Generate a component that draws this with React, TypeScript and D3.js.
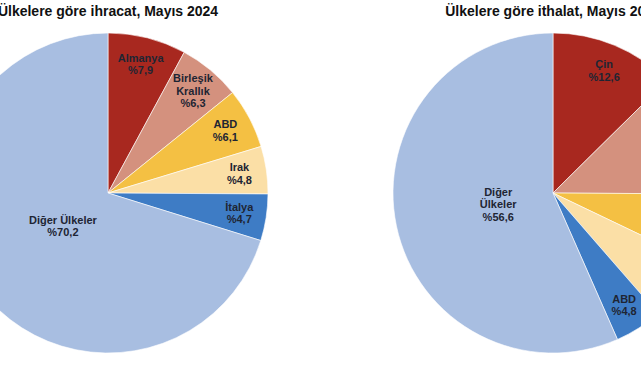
import React from "react";
import * as d3 from "d3";

const exportCountries = ["Almanya", "Birleşik Krallık", "ABD", "Irak", "İtalya", "Diğer Ülkeler"];
const exportShares = [7.9, 6.3, 6.1, 4.8, 4.7, 70.2];
const exportLabelLines = [["Almanya"], ["Birleşik", "Krallık"], ["ABD"], ["Irak"], ["İtalya"], ["Diğer Ülkeler"]];

const importCountries = ["Çin", "Rusya", "Almanya", "İsviçre", "ABD", "Diğer Ülkeler"];
const importShares = [12.6, 12.5, 7.0, 6.5, 4.8, 56.6];
const importLabelLines = [["Çin"], ["Rusya"], ["Almanya"], ["İsviçre"], ["ABD"], ["Diğer", "Ülkeler"]];

const sliceColors = ["#a8281f", "#d4917e", "#f4c043", "#fbdfa6", "#3e7cc5", "#a8bee1"];

const titles = ["Ülkelere göre ihracat, Mayıs 2024", "Ülkelere göre ithalat, Mayıs 2024"];

const W = 641;
const H = 380;
const R = 160;
const FONT = "'Liberation Sans', Arial, sans-serif";

function fmt(v: number) {
  return "%" + v.toFixed(1).replace(".", ",");
}

function Pie({ cx, cy, names, values, lines, title }: any) {
  const data = names.map((n: string, i: number) => ({ name: n, value: values[i], lines: lines[i], i }));
  const pie = d3.pie<any>().sort(null).value((d: any) => d.value);
  const arcs = pie(data);
  const arc = d3.arc<any>().innerRadius(0).outerRadius(R);
  return (
    <g>
      <text x={cx} y={16} textAnchor="middle" fontFamily={FONT} fontWeight="bold" fontSize={14} fill="#111">
        {title}
      </text>
      <g transform={`translate(${cx},${cy})`}>
        {arcs.map((a: any) => (
          <path key={a.data.name} d={arc(a) as string} fill={sliceColors[a.data.i]} stroke="#ffffff" strokeWidth={0.6} />
        ))}
        {arcs.map((a: any) => {
          const mid = (a.startAngle + a.endAngle) / 2;
          const f = a.data.value > 50 ? 0.35 : 0.83;
          const x = Math.sin(mid) * R * f;
          const y = -Math.cos(mid) * R * f;
          const allLines = [...a.data.lines, fmt(a.data.value)];
          const lh = 12.5;
          const y0 = y - ((allLines.length - 1) * lh) / 2;
          return (
            <text key={"t" + a.data.name} x={x} y={y0} textAnchor="middle" fontFamily={FONT} fontWeight="bold" fontSize={11} fill="#1e2533">
              {allLines.map((l: string, k: number) => (
                <tspan key={k} x={x} y={y0 + k * lh} dy="0.35em">
                  {l}
                </tspan>
              ))}
            </text>
          );
        })}
      </g>
    </g>
  );
}

export default function App() {
  return (
    <svg width={W} height={H} style={{ position: "absolute", left: 0, top: 0, background: "#fff" }}>
      <rect width={W} height={H} fill="#fff" />
      <Pie cx={108} cy={193} names={exportCountries} values={exportShares} lines={exportLabelLines} title={titles[0]} />
      <Pie cx={553} cy={193} names={importCountries} values={importShares} lines={importLabelLines} title={titles[1]} />
    </svg>
  );
}
